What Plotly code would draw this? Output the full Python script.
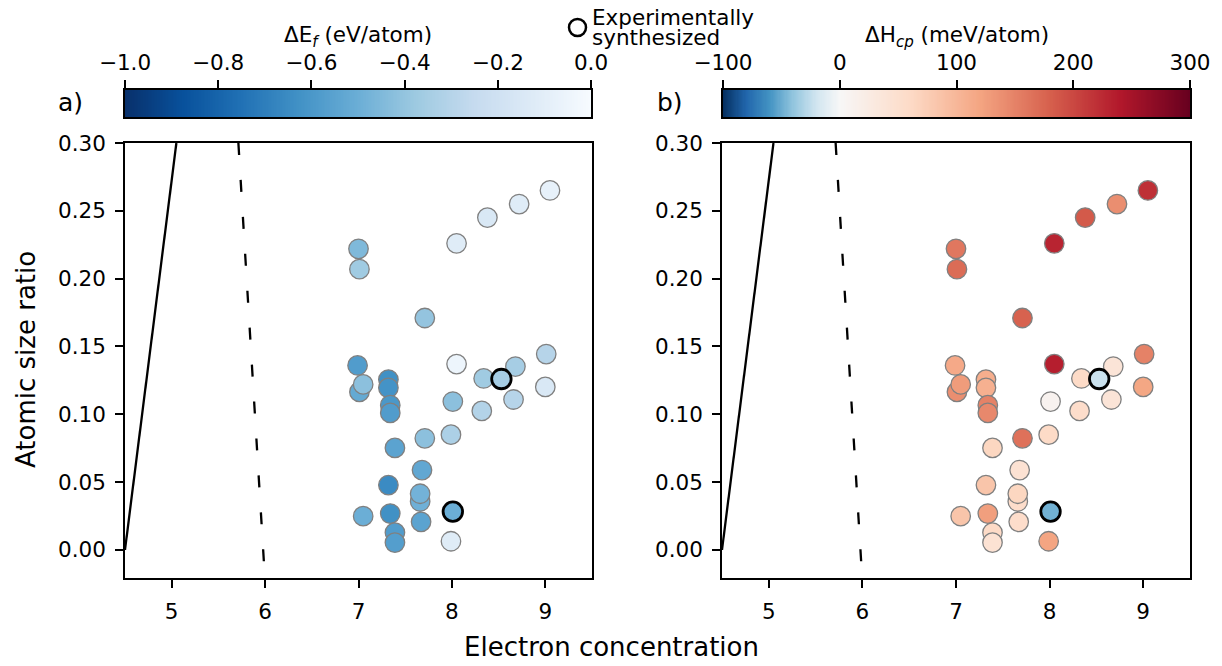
import numpy as np
import plotly.graph_objects as go

# ---------------- data ----------------
ec = [7.00, 7.01, 7.71, 8.05, 8.38, 8.72, 9.05, 6.99, 7.01, 7.05, 7.32, 7.32,
      7.34, 7.34, 7.39, 7.71, 7.99, 8.01, 8.05, 8.34, 8.68, 9.01, 9.00, 8.66,
      8.32, 7.32, 7.68, 7.66, 7.66, 7.05, 7.34, 7.67, 7.39, 7.39, 7.99]
asr = [0.222, 0.207, 0.171, 0.226, 0.245, 0.255, 0.265, 0.136, 0.1165, 0.122,
       0.1256, 0.1195, 0.1067, 0.101, 0.0752, 0.0823, 0.085, 0.1094, 0.137,
       0.1264, 0.1352, 0.1444, 0.1202, 0.1109, 0.1025, 0.0478, 0.0589, 0.0357,
       0.0414, 0.0249, 0.0268, 0.0207, 0.0128, 0.0054, 0.0064]
dEf = [-0.45, -0.37, -0.40, -0.12, -0.15, -0.12, -0.08, -0.58, -0.52, -0.42,
       -0.63, -0.62, -0.60, -0.58, -0.55, -0.42, -0.33, -0.42, -0.05, -0.37,
       -0.35, -0.30, -0.15, -0.30, -0.31, -0.65, -0.53, -0.49, -0.48, -0.50,
       -0.63, -0.55, -0.58, -0.57, -0.12]
dHcp = [160, 170, 178, 230, 185, 140, 220, 115, 140, 128, 110, 108, 150, 145,
        65, 165, 60, 10, 235, 60, 40, 150, 118, 40, 55, 85, 45, 55, 65, 85,
        125, 55, 60, 45, 120]

# experimentally synthesized compounds
exp_ec = [8.53, 8.01]
exp_asr = [0.126, 0.0283]
exp_dEf = [-0.35, -0.50]
exp_dHcp = [-22, -48]

# reference boundary lines
solid_x = [4.5, 5.05]
solid_y = [0.0, 0.30]
dash_x = [5.714, 5.997]
dash_y = [0.30, -0.02]

xticks = [5, 6, 7, 8, 9]
yticks = [0.0, 0.05, 0.10, 0.15, 0.20, 0.25, 0.30]
cb1_ticks = [-1.0, -0.8, -0.6, -0.4, -0.2, 0.0]
cb2_ticks = [-100, 0, 100, 200, 300]

# ---------------- colour scales ----------------
blues = ["#f7fbff", "#deebf7", "#c6dbef", "#9ecae1", "#6baed6",
         "#4292c6", "#2171b5", "#08519c", "#08306b"]
blues_r = [[i / 8, c] for i, c in enumerate(blues[::-1])]

rdbu_r = ["#053061", "#2166ac", "#4393c3", "#92c5de", "#d1e5f0", "#f7f7f7",
          "#fddbc7", "#f4a582", "#d6604d", "#b2182b", "#67001f"]
vmin, vcen, vmax = -100.0, 0.0, 300.0
rdbu_two = []
for i, col in enumerate(rdbu_r):
    c = i / 10
    if c <= 0.5:
        v = vmin + (c / 0.5) * (vcen - vmin)
    else:
        v = vcen + ((c - 0.5) / 0.5) * (vmax - vcen)
    rdbu_two.append([(v - vmin) / (vmax - vmin), col])

FONT = "DejaVu Sans"
W, H = 1222, 666
TICK_FS = 21.5

def px(x):
    return x / W

def py(y):
    return 1 - y / H

fig = go.Figure()

panels = [("x", "y", dEf, exp_dEf, blues_r, -1.0, 0.0),
          ("x2", "y2", dHcp, exp_dHcp, rdbu_two, -100, 300)]

for xa, ya, vals, evals, cs, cmin, cmax in panels:
    fig.add_trace(go.Scatter(x=solid_x, y=solid_y, mode="lines",
                             line=dict(color="black", width=2.3),
                             xaxis=xa, yaxis=ya, showlegend=False, hoverinfo="skip"))
    fig.add_trace(go.Scatter(x=dash_x, y=dash_y, mode="lines",
                             line=dict(color="black", width=2.3, dash="12px,25px"),
                             xaxis=xa, yaxis=ya, showlegend=False, hoverinfo="skip"))
    fig.add_trace(go.Scatter(x=ec, y=asr, mode="markers",
                             marker=dict(size=19.5, color=vals, colorscale=cs,
                                         cmin=cmin, cmax=cmax, showscale=False,
                                         line=dict(color="#808080", width=1.3)),
                             xaxis=xa, yaxis=ya, showlegend=False))
    fig.add_trace(go.Scatter(x=exp_ec, y=exp_asr, mode="markers",
                             marker=dict(size=19.5, color=evals, colorscale=cs,
                                         cmin=cmin, cmax=cmax, showscale=False,
                                         line=dict(color="black", width=2.8)),
                             xaxis=xa, yaxis=ya, showlegend=False))

# colour bars as heatmaps
cb1_x = np.linspace(-1.0, 0.0, 300)
fig.add_trace(go.Heatmap(x=cb1_x, y=[0.5], z=[cb1_x], colorscale=blues_r,
                         zmin=-1, zmax=0, showscale=False, xaxis="x3", yaxis="y3",
                         hoverinfo="skip"))
cb2_x = np.linspace(-100, 300, 401)
fig.add_trace(go.Heatmap(x=cb2_x, y=[0.5], z=[cb2_x], colorscale=rdbu_two,
                         zmin=-100, zmax=300, showscale=False, xaxis="x4", yaxis="y4",
                         hoverinfo="skip"))

axis_common = dict(showline=True, linecolor="black", linewidth=1.5, mirror=True,
                   ticks="outside", ticklen=8, tickwidth=1.6, tickcolor="black",
                   showgrid=False, zeroline=False,
                   tickfont=dict(family=FONT, size=TICK_FS, color="black"))

yd = [py(578), py(143)]
fig.update_layout(
    width=W, height=H,
    margin=dict(l=0, r=0, t=0, b=0, autoexpand=False),
    paper_bgcolor="white", plot_bgcolor="white",
    font=dict(family=FONT, color="black"),
    xaxis=dict(domain=[px(125), px(592)], range=[4.5, 9.5], tickvals=xticks,
               anchor="y", ticklabelstandoff=5, **axis_common),
    yaxis=dict(domain=yd, range=[-0.0207, 0.30], tickvals=yticks, tickformat=".2f",
               anchor="x", ticklabelstandoff=5, **axis_common),
    xaxis2=dict(domain=[px(722), px(1190)], range=[4.5, 9.5], tickvals=xticks,
                anchor="y2", ticklabelstandoff=5, **axis_common),
    yaxis2=dict(domain=yd, range=[-0.0207, 0.30], tickvals=yticks, tickformat=".2f",
                anchor="x2", ticklabelstandoff=5, **axis_common),
    xaxis3=dict(domain=[px(125), px(591)], range=[-1.0, 0.0], tickvals=cb1_ticks,
                tickformat=".1f", side="top", anchor="y3", ticklabelstandoff=2,
                **axis_common),
    yaxis3=dict(domain=[py(117), py(90)], range=[0, 1], showticklabels=False,
                ticks="", showline=True, linecolor="black", linewidth=1.5, mirror=True,
                showgrid=False, zeroline=False, anchor="x3"),
    xaxis4=dict(domain=[px(723), px(1190)], range=[-100, 300], tickvals=cb2_ticks,
                side="top", anchor="y4", ticklabelstandoff=2, **axis_common),
    yaxis4=dict(domain=[py(117), py(90)], range=[0, 1], showticklabels=False,
                ticks="", showline=True, linecolor="black", linewidth=1.5, mirror=True,
                showgrid=False, zeroline=False, anchor="x4"),
    showlegend=False,
)

# legend: open circle marker + label
fig.add_shape(type="circle", xref="paper", yref="paper",
              x0=px(569), x1=px(586), y0=py(36), y1=py(19),
              line=dict(color="black", width=2.5), fillcolor="white")

ann = [
    dict(text="Electron concentration", x=0.5, y=py(647), font_size=26),
    dict(text="Atomic size ratio", x=px(26), y=py(360), font_size=26, textangle=-90),
    dict(text="ΔE<i><sub>f</sub></i> (eV/atom)", x=px(358), y=py(36), font_size=TICK_FS),
    dict(text="ΔH<i><sub>cp</sub></i> (meV/atom)", x=px(957), y=py(36), font_size=TICK_FS),
    dict(text="a)", x=px(70), y=py(102), font_size=25),
    dict(text="b)", x=px(670), y=py(102), font_size=25),
]
for a in ann:
    fig.add_annotation(xref="paper", yref="paper", showarrow=False,
                       x=a["x"], y=a["y"], text=a["text"], textangle=a.get("textangle", 0),
                       xanchor="center", yanchor="middle",
                       font=dict(family=FONT, size=a["font_size"], color="black"))

for txt, yy in [("Experimentally", 17), ("synthesized", 37)]:
    fig.add_annotation(xref="paper", yref="paper", showarrow=False,
                       x=px(590), y=py(yy), text=txt, xanchor="left", yanchor="middle",
                       font=dict(family=FONT, size=TICK_FS, color="black"))

fig.write_html("out.html")
